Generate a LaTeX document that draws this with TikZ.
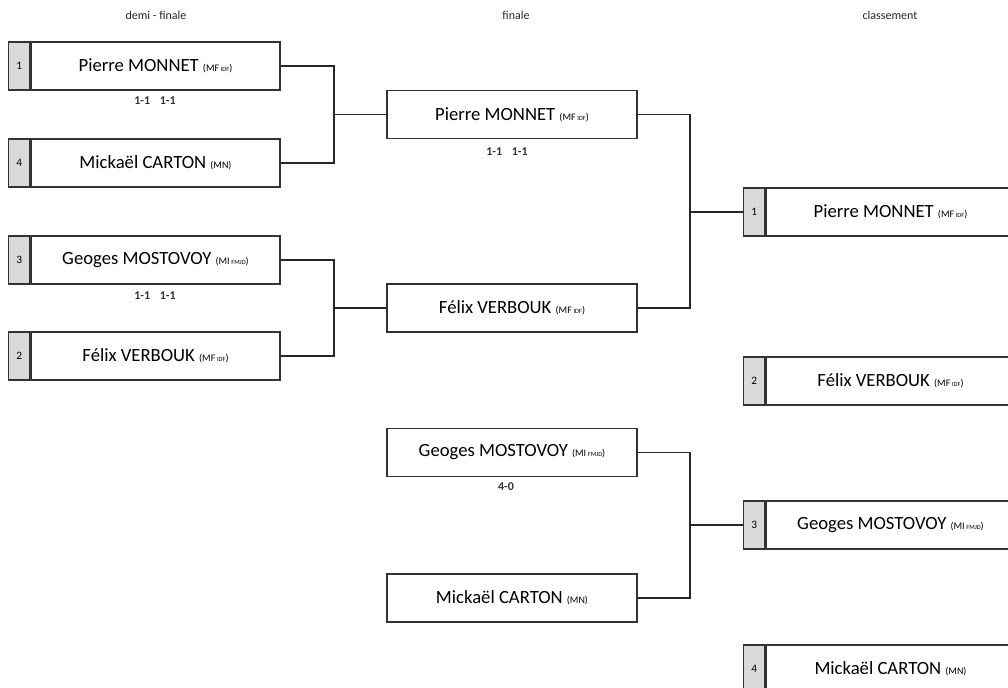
\documentclass[tikz,border=0pt]{standalone}
\usepackage{fontspec}
\setmainfont{Carlito}
\begin{document}
\begin{tikzpicture}[x=0.75pt,y=-0.75pt,
  namebox/.style={draw=black!80,line width=1pt,fill=white,minimum height=36pt,inner sep=0pt,font=\fontsize{14}{16}\selectfont},
  numcell/.style={draw=black!80,line width=1pt,fill=black!15,minimum height=36pt,minimum width=15.75pt,inner sep=0pt,font=\fontsize{8.5}{10}\selectfont},
  link/.style={draw=black!85,line width=1pt},
  score/.style={font=\bfseries\fontsize{9}{11}\selectfont,text=black!80},
  head/.style={font=\fontsize{9}{11}\selectfont,text=black!85}]
\useasboundingbox (0,0) rectangle (1008,687);
\newcommand{\club}[1]{{\fontsize{7.5}{8}\selectfont(#1)}}
\newcommand{\sub}[1]{\,{\fontsize{4.8}{5}\selectfont #1}}
% headers
\node[head] (h1) at (156,15) {demi - finale};
\node[head] (h2) at (516,15) {finale};
\node[head] (h3) at (890,15) {classement};
% semi-finals
\node[namebox,minimum width=186.75pt] (s1) at (155.5,66) {Pierre MONNET \club{MF\sub{IDF}}};
\node[numcell,anchor=east] (n1) at (s1.west) {1};
\node[namebox,minimum width=186.75pt] (s4) at (155.5,163) {Mickaël CARTON \club{MN}};
\node[numcell,anchor=east] (n4) at (s4.west) {4};
\node[namebox,minimum width=186.75pt] (s3) at (155.5,260) {Geoges MOSTOVOY \club{MI\sub{FMJD}}};
\node[numcell,anchor=east] (n3) at (s3.west) {3};
\node[namebox,minimum width=186.75pt] (s2) at (155.5,356) {Félix VERBOUK \club{MF\sub{IDF}}};
\node[numcell,anchor=east] (n2) at (s2.west) {2};
\node[score] (sc1) at (155,101) {1-1\hspace{0.8em}1-1};
\node[score] (sc2) at (155,296) {1-1\hspace{0.8em}1-1};
% finals
\node[namebox,minimum width=187.5pt] (f1) at (512,114.5) {Pierre MONNET \club{MF\sub{IDF}}};
\node[namebox,minimum width=187.5pt] (f2) at (512,308) {Félix VERBOUK \club{MF\sub{IDF}}};
\node[namebox,minimum width=187.5pt] (f3) at (512,452.5) {Geoges MOSTOVOY \club{MI\sub{FMJD}}};
\node[namebox,minimum width=187.5pt] (f4) at (512,598) {Mickaël CARTON \club{MN}};
\node[score] (sc3) at (507,152) {1-1\hspace{0.8em}1-1};
\node[score] (sc4) at (506,487) {4-0};
% classement
\node[namebox,minimum width=186.75pt] (c1) at (890.5,212) {Pierre MONNET \club{MF\sub{IDF}}};
\node[numcell,anchor=east] (m1) at (c1.west) {1};
\node[namebox,minimum width=186.75pt] (c2) at (890.5,381) {Félix VERBOUK \club{MF\sub{IDF}}};
\node[numcell,anchor=east] (m2) at (c2.west) {2};
\node[namebox,minimum width=186.75pt] (c3) at (890.5,525) {Geoges MOSTOVOY \club{MI\sub{FMJD}}};
\node[numcell,anchor=east] (m3) at (c3.west) {3};
\node[namebox,minimum width=186.75pt] (c4) at (890.5,669) {Mickaël CARTON \club{MN}};
\node[numcell,anchor=east] (m4) at (c4.west) {4};
% connectors
\coordinate (j1) at (334,114.5);
\coordinate (j2) at (334,308);
\coordinate (j3) at (690,212);
\coordinate (j4) at (690,525);
\draw[link] (s1.east) -| (j1) |- (s4.east);
\draw[link] (j1) -- (f1.west);
\draw[link] (s3.east) -| (j2) |- (s2.east);
\draw[link] (j2) -- (f2.west);
\draw[link] (f1.east) -| (j3) |- (f2.east);
\draw[link] (j3) -- (m1.west);
\draw[link] (f3.east) -| (j4) |- (f4.east);
\draw[link] (j4) -- (m3.west);
\end{tikzpicture}
\end{document}
